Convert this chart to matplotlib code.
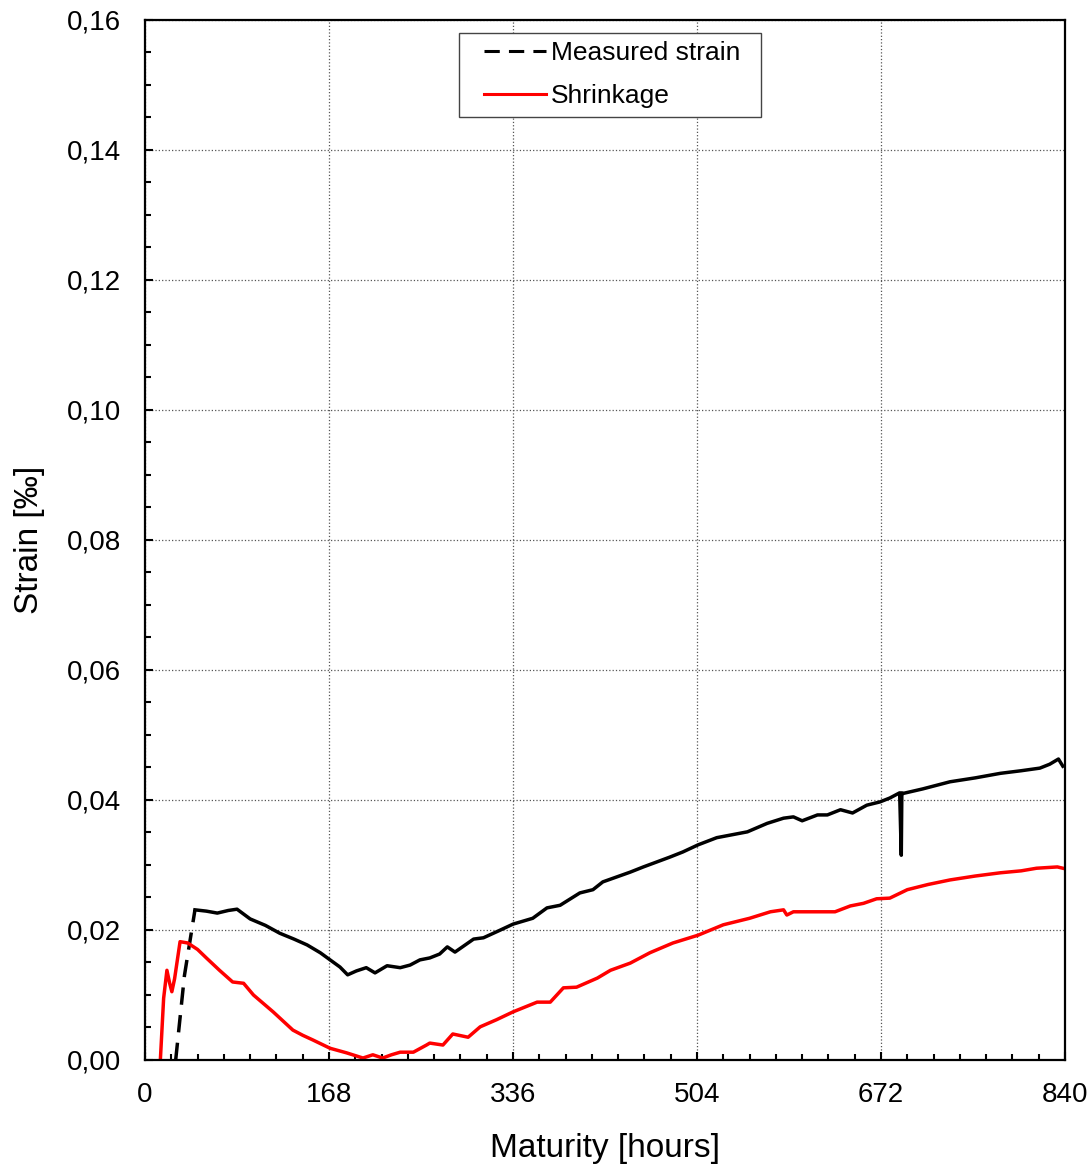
import matplotlib
matplotlib.use("Agg")
import matplotlib.pyplot as plt
from matplotlib.patches import Rectangle
from matplotlib.ticker import MultipleLocator, FuncFormatter

plt.rcParams['font.family'] = ['Liberation Sans', 'DejaVu Sans']

# measured strain (maturity hours, strain permille)
meas_h = [28, 36, 45.6, 56, 66, 76, 84, 96, 110, 123, 136, 148, 160, 169, 178, 185, 193, 202, 210, 221, 233,
          242, 251, 260, 269, 276, 283, 300, 309, 322, 336, 354, 367, 379, 397, 409, 418, 443, 455, 479,
          491, 505, 522, 550, 568, 583, 592, 600, 614, 623, 635, 646, 659, 671, 680, 689, 690.5, 691, 692,
          710, 735, 758, 781, 800, 817, 826, 834, 838]
meas_v = [0.0, 0.013, 0.0231, 0.0229, 0.0226, 0.0230, 0.0232, 0.0217, 0.0207, 0.0195, 0.0186, 0.0177, 0.0165,
          0.0154, 0.0143, 0.0131, 0.0137, 0.0142, 0.0134, 0.0145, 0.0142, 0.0146, 0.0154, 0.0157, 0.0163,
          0.0174, 0.0166, 0.0186, 0.0188, 0.0198, 0.0209, 0.0218, 0.0234, 0.0238, 0.0257, 0.0262, 0.0274,
          0.0289, 0.0297, 0.0312, 0.0320, 0.0331, 0.0342, 0.0351, 0.0364, 0.0372, 0.0374, 0.0368, 0.0377,
          0.0377, 0.0385, 0.0380, 0.0392, 0.0397, 0.0403, 0.0411, 0.0315, 0.0411, 0.0410, 0.0417, 0.0428,
          0.0434, 0.0441, 0.0445, 0.0449, 0.0455, 0.0463, 0.0452]

# shrinkage
shr_h = [14, 17, 20, 22.5, 24.5, 27, 32, 39, 48, 56, 68, 80, 90, 99, 108, 117, 126, 135, 144, 153, 169, 184,
         199, 208, 217, 225, 233, 245, 257, 260, 272, 281, 295, 306, 321, 336, 358, 370, 382, 394, 413,
         425, 443, 461, 482, 505, 528, 552, 571, 583, 586, 592, 614, 630, 644, 656, 668, 680, 696, 715,
         735, 758, 781, 800, 814, 833, 838]
shr_v = [0.0, 0.0095, 0.0138, 0.0118, 0.0105, 0.0125, 0.0182, 0.0180, 0.0170, 0.0157, 0.0138, 0.0120,
         0.0118, 0.0100, 0.0087, 0.0074, 0.0060, 0.0046, 0.0038, 0.0031, 0.0018, 0.0011, 0.0003, 0.0008,
         0.0003, 0.0008, 0.0012, 0.0012, 0.0023, 0.0026, 0.0023, 0.0040, 0.0035, 0.0051, 0.0062, 0.0074,
         0.0089, 0.0089, 0.0111, 0.0112, 0.0126, 0.0138, 0.0149, 0.0165, 0.0180, 0.0192, 0.0208, 0.0218,
         0.0228, 0.0231, 0.0223, 0.0228, 0.0228, 0.0228, 0.0237, 0.0241, 0.0248, 0.0249, 0.0262, 0.0270,
         0.0277, 0.0283, 0.0288, 0.0291, 0.0295, 0.0297, 0.0295]

fig = plt.figure(figsize=(10.92, 11.67), dpi=100)
ax = fig.add_axes([0.1328, 0.0917, 0.8425, 0.8912])

ax.plot(meas_h[:3], meas_v[:3], color='black', lw=2.5, dashes=(5, 3))
ax.plot(meas_h[2:], meas_v[2:], color='black', lw=2.5)
ax.plot(shr_h, shr_v, color='#ff0000', lw=2.5)

ax.set_xlim(0, 840)
ax.set_ylim(0, 0.16)
ax.xaxis.set_major_locator(MultipleLocator(168))
ax.xaxis.set_minor_locator(MultipleLocator(24))
ax.yaxis.set_major_locator(MultipleLocator(0.02))
ax.yaxis.set_minor_locator(MultipleLocator(0.005))
ax.yaxis.set_major_formatter(FuncFormatter(lambda v, p: f'{v:.2f}'.replace('.', ',')))

ax.tick_params(which='both', direction='in', labelsize=20, width=1.5)
ax.tick_params(which='major', length=6)
ax.tick_params(which='minor', length=4.5)
ax.tick_params(axis='x', which='major', pad=16)
ax.tick_params(axis='y', which='major', pad=17)
for s in ax.spines.values():
    s.set_linewidth(1.6)

ax.grid(True, which='major', color='#555555', linestyle=':', linewidth=0.9)

ax.set_xlabel('Maturity [hours]', fontsize=24, labelpad=18)
ax.set_ylabel('Strain [‰]', fontsize=24, labelpad=16)

# legend box
ax.add_patch(Rectangle((0.3413, 0.9067), 0.3283, 0.0808, transform=ax.transAxes, facecolor='white',
                       edgecolor='#444444', linewidth=1.0, zorder=4))
h1, = ax.plot([], [], color='black', lw=2.2, dashes=(5, 3))
h2, = ax.plot([], [], color='#ff0000', lw=2.2)
leg = ax.legend([h1, h2], ['Measured strain', 'Shrinkage'], loc='center left', bbox_to_anchor=(0.3685, 0.9471),
                fontsize=19, frameon=False, handlelength=2.35, handletextpad=0.2, borderpad=0,
                borderaxespad=0, labelspacing=0.72)
leg.set_zorder(5)

fig.savefig('out.png', dpi=100)
